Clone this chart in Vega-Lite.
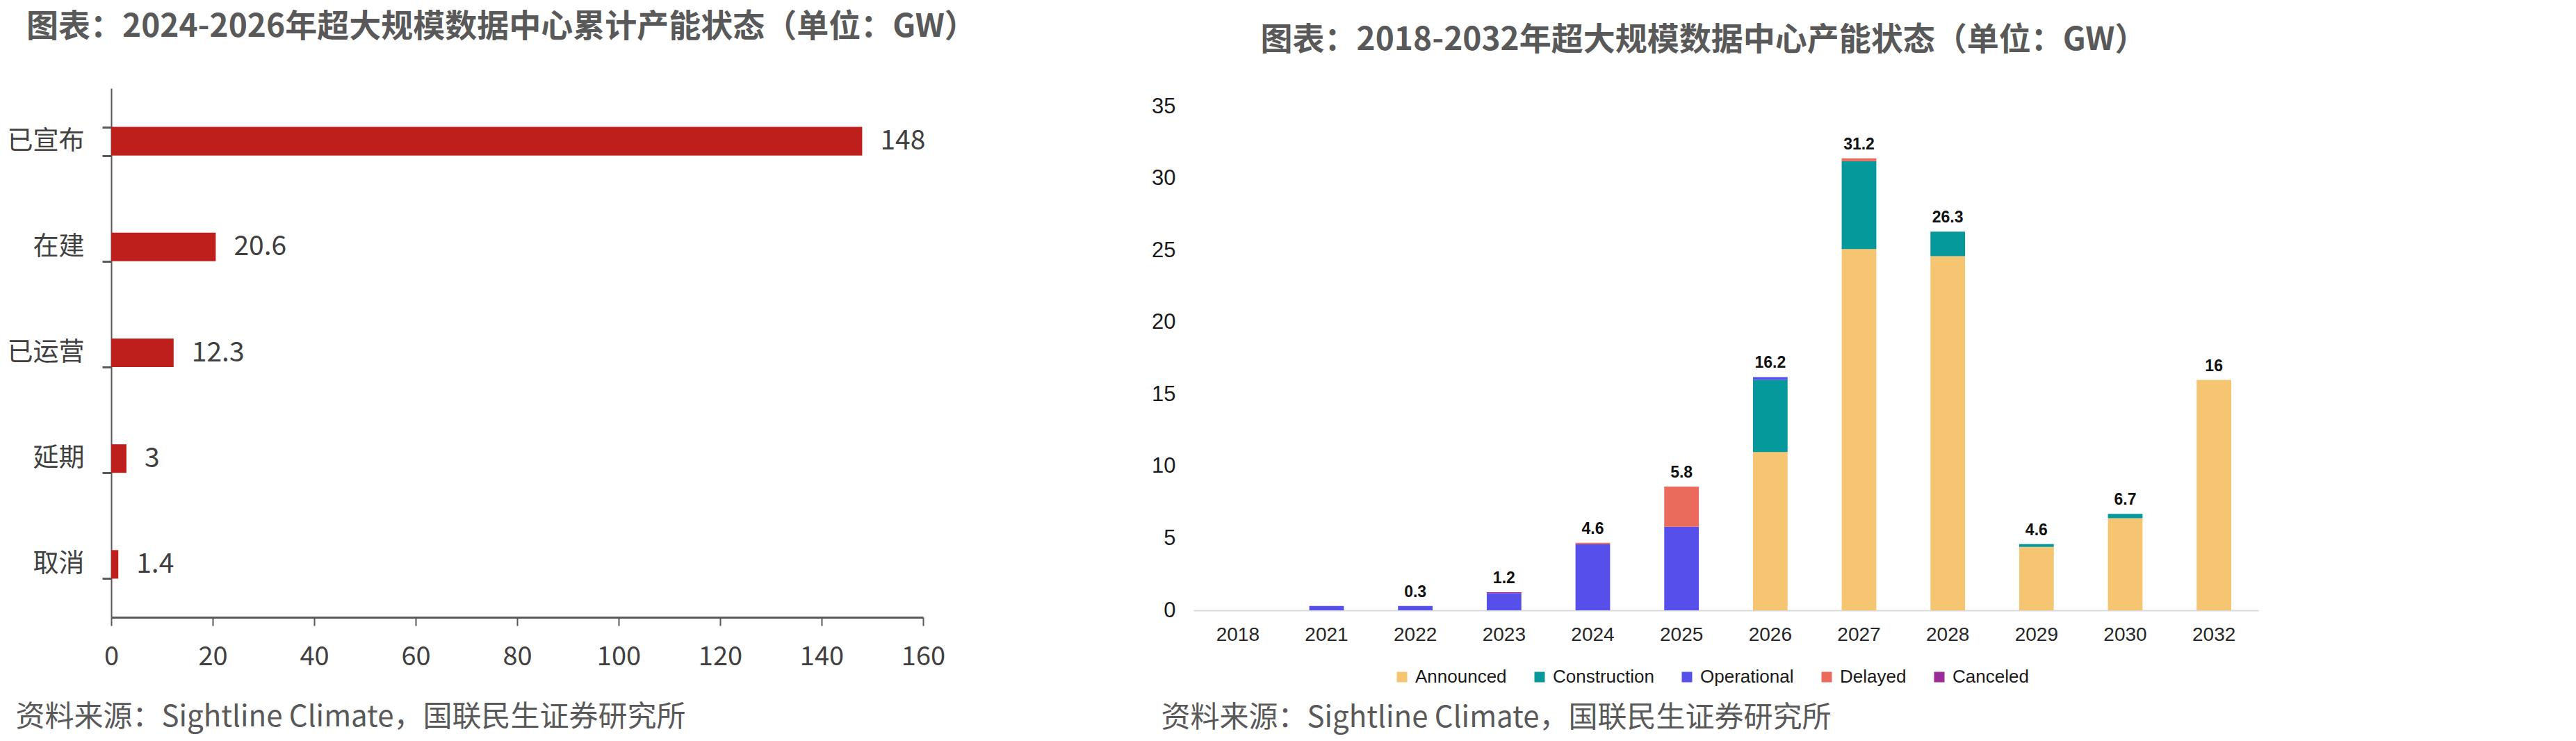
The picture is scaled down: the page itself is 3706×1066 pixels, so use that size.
{
  "$schema": "https://vega.github.io/schema/vega-lite/v6.json",
  "background": "white",
  "padding": {"left": 10, "top": 16, "right": 5, "bottom": 5},
  "bounds": "flush",
  "spacing": 389,
  "config": {"view": {"stroke": null}},
  "datasets": {
    "status": [
      {"cat": "已宣布", "value": 148},
      {"cat": "在建", "value": 20.6},
      {"cat": "已运营", "value": 12.3},
      {"cat": "延期", "value": 3},
      {"cat": "取消", "value": 1.4}
    ],
    "stack": [
      {"year": "2021", "status": "Operational", "value": 0.3},
      {"year": "2022", "status": "Operational", "value": 0.3},
      {"year": "2023", "status": "Operational", "value": 1.2},
      {"year": "2023", "status": "Canceled", "value": 0.06},
      {"year": "2024", "status": "Operational", "value": 4.6},
      {"year": "2024", "status": "Delayed", "value": 0.1},
      {"year": "2025", "status": "Operational", "value": 5.8},
      {"year": "2025", "status": "Delayed", "value": 2.8},
      {"year": "2026", "status": "Announced", "value": 11.0},
      {"year": "2026", "status": "Construction", "value": 5.0},
      {"year": "2026", "status": "Operational", "value": 0.2},
      {"year": "2027", "status": "Announced", "value": 25.1},
      {"year": "2027", "status": "Construction", "value": 6.1},
      {"year": "2027", "status": "Delayed", "value": 0.2},
      {"year": "2028", "status": "Announced", "value": 24.6},
      {"year": "2028", "status": "Construction", "value": 1.7},
      {"year": "2029", "status": "Announced", "value": 4.4},
      {"year": "2029", "status": "Construction", "value": 0.2},
      {"year": "2030", "status": "Announced", "value": 6.4},
      {"year": "2030", "status": "Construction", "value": 0.3},
      {"year": "2032", "status": "Announced", "value": 16.0}
    ],
    "labels": [
      {"year": "2022", "label": "0.3"},
      {"year": "2023", "label": "1.2"},
      {"year": "2024", "label": "4.6"},
      {"year": "2025", "label": "5.8"},
      {"year": "2026", "label": "16.2"},
      {"year": "2027", "label": "31.2"},
      {"year": "2028", "label": "26.3"},
      {"year": "2029", "label": "4.6"},
      {"year": "2030", "label": "6.7"},
      {"year": "2032", "label": "16"}
    ]
  },
  "hconcat": [
    {
      "width": 1168,
      "height": 761,
      "title": {
        "text": "图表：2024-2026年超大规模数据中心累计产能状态（单位：GW）",
        "anchor": "start",
        "frame": "group",
        "dx": -122,
        "offset": 45,
        "font": "Noto Sans CJK SC",
        "fontSize": 46,
        "fontWeight": "bold",
        "color": "#595959"
      },
      "data": {"name": "status"},
      "encoding": {
        "y": {
          "field": "cat",
          "type": "nominal",
          "sort": null,
          "scale": {"paddingInner": 0.73, "paddingOuter": 0.365},
          "axis": {
            "title": null,
            "domainColor": "#595959",
            "domainWidth": 2,
            "tickColor": "#595959",
            "tickWidth": 3,
            "tickSize": 13,
            "tickBand": "extent",
            "labelFont": "Noto Sans CJK SC",
            "labelFontSize": 37,
            "labelColor": "#404040",
            "labelPadding": 26
          }
        },
        "x": {
          "field": "value",
          "type": "quantitative",
          "scale": {"domain": [0, 160], "nice": false},
          "axis": {
            "values": [0, 20, 40, 60, 80, 100, 120, 140, 160],
            "labelFlush": false,
            "grid": false,
            "domainColor": "#595959",
            "domainWidth": 3,
            "tickColor": "#595959",
            "tickWidth": 2,
            "tickSize": 12,
            "labelFont": "Noto Sans CJK SC",
            "labelFontSize": 38,
            "labelColor": "#404040",
            "labelPadding": 26,
            "title": "资料来源：Sightline Climate，国联民生证券研究所",
            "titleX": -138,
            "titleY": 143,
            "titleAlign": "left",
            "titleBaseline": "middle",
            "titleFont": "Noto Sans CJK SC",
            "titleFontSize": 42,
            "titleFontWeight": "normal",
            "titleColor": "#595959"
          }
        }
      },
      "layer": [
        {"mark": {"type": "bar", "color": "#BF1F1C"}},
        {
          "mark": {
            "type": "text",
            "align": "left",
            "baseline": "middle",
            "dx": 26,
            "font": "Noto Sans CJK SC",
            "fontSize": 39,
            "color": "#404040"
          },
          "encoding": {"text": {"field": "value", "type": "quantitative"}}
        }
      ]
    },
    {
      "width": 1532,
      "height": 751,
      "title": {
        "text": "图表：2018-2032年超大规模数据中心产能状态（单位：GW）",
        "anchor": "middle",
        "frame": "group",
        "dx": -32,
        "offset": 45,
        "font": "Noto Sans CJK SC",
        "fontSize": 46,
        "fontWeight": "bold",
        "color": "#595959"
      },
      "layer": [
        {
          "data": {"name": "stack"},
          "transform": [
            {"calculate": "indexof(['Announced','Construction','Operational','Delayed','Canceled'], datum.status)", "as": "stackOrder"}
          ],
          "mark": {"type": "bar"},
          "encoding": {
            "x": {
              "field": "year",
              "type": "ordinal",
              "scale": {
                "domain": ["2018", "2021", "2022", "2023", "2024", "2025", "2026", "2027", "2028", "2029", "2030", "2032"],
                "paddingInner": 0.61,
                "paddingOuter": 0.305
              },
              "axis": {
                "labelAngle": 0,
                "domainColor": "#D9D9D9",
                "domainWidth": 2,
                "ticks": false,
                "labelFont": "Liberation Sans",
                "labelFontSize": 28,
                "labelColor": "#262626",
                "labelPadding": 21,
                "title": "资料来源：Sightline Climate，国联民生证券研究所",
                "titleX": -47,
                "titleY": 154,
                "titleAlign": "left",
                "titleBaseline": "middle",
                "titleFont": "Noto Sans CJK SC",
                "titleFontSize": 42,
                "titleFontWeight": "normal",
                "titleColor": "#595959"
              }
            },
            "y": {
              "field": "value",
              "type": "quantitative",
              "stack": "zero",
              "scale": {"domain": [0, 36.26], "nice": false},
              "axis": {
                "title": null,
                "values": [0, 5, 10, 15, 20, 25, 30, 35],
                "domain": false,
                "ticks": false,
                "grid": false,
                "labelFont": "Liberation Sans",
                "labelFontSize": 31,
                "labelColor": "#1a1a1a",
                "labelPadding": 26
              }
            },
            "order": {"field": "stackOrder", "type": "quantitative", "sort": "ascending"},
            "color": {
              "field": "status",
              "type": "nominal",
              "scale": {
                "domain": ["Announced", "Construction", "Operational", "Delayed", "Canceled"],
                "range": ["#F5C572", "#05999B", "#574FEA", "#EA6A5C", "#9C2A97"]
              },
              "legend": {
                "orient": "none",
                "legendX": 1844,
                "legendY": 834,
                "direction": "horizontal",
                "title": null,
                "symbolType": "square",
                "symbolSize": 225,
                "symbolStrokeWidth": 0,
                "labelFont": "Liberation Sans",
                "labelFontSize": 26,
                "labelColor": "#1a1a1a",
                "labelOffset": 6,
                "columnPadding": 34
              }
            }
          }
        },
        {
          "data": {"name": "stack"},
          "transform": [
            {"aggregate": [{"op": "sum", "field": "value", "as": "total"}], "groupby": ["year"]},
            {"lookup": "year", "from": {"data": {"name": "labels"}, "key": "year", "fields": ["label"]}},
            {"filter": "isValid(datum.label)"}
          ],
          "mark": {
            "type": "text",
            "baseline": "alphabetic",
            "dy": -13,
            "font": "Liberation Sans",
            "fontSize": 23,
            "fontWeight": "bold",
            "color": "#111111"
          },
          "encoding": {
            "x": {"field": "year", "type": "ordinal"},
            "y": {"field": "total", "type": "quantitative"},
            "text": {"field": "label"}
          }
        }
      ]
    }
  ]
}
